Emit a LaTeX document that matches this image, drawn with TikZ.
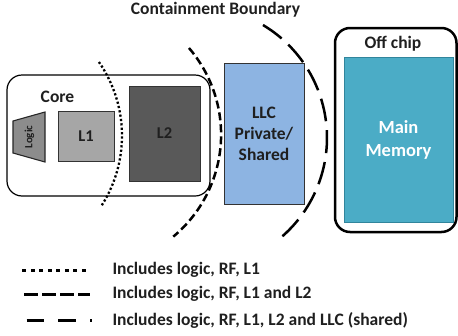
\documentclass[tikz,border=0pt]{standalone}
\usepackage{fontspec}
\setmainfont{Carlito}[BoldFont={Carlito Bold}]
\begin{document}
\begin{tikzpicture}[x=1pt,y=-1pt,
  every node/.style={font=\bfseries, text=black!88},
  block/.style={draw=black!80, line width=1pt, inner sep=0pt},
  lbl/.style={font=\fontsize{17.5}{21}\selectfont\bfseries, align=center},
  legtext/.style={font=\fontsize{17.5}{21}\selectfont\bfseries, anchor=west},
  bnddot/.style={line width=2.3pt, dash pattern=on 2.2pt off 2.2pt},
  bnddash/.style={line width=2.5pt, dash pattern=on 8pt off 4pt},
  bndlong/.style={line width=2.5pt, dash pattern=on 23pt off 9pt},
  legdot/.style={line width=3pt, dash pattern=on 4pt off 4.5pt},
  legdash/.style={line width=3pt, dash pattern=on 13.3pt off 4.7pt},
  leglong/.style={line width=3pt, dash pattern=on 17.7pt off 14pt}]
\useasboundingbox (0,0) rectangle (458,335);

% title
\node[lbl] (title) at (215.5,10) {Containment Boundary};

% core enclosure
\draw[line width=1.2pt, rounded corners=15pt] (7,75) rectangle (210,196);
\node[lbl] (core) at (57.5,97) {Core};

% logic (trapezoid)
\draw[fill=black!45, draw=black!85, line width=1.1pt]
  (13,121) -- (45,112) -- (45,162) -- (13,153) -- cycle;
\node[font=\fontsize{11}{12}\selectfont\bfseries, rotate=90] (logic) at (29.5,137) {Logic};

% caches
\node[block, fill=black!35, minimum width=56pt, minimum height=50pt, font=\fontsize{16.5}{19}\selectfont\bfseries] (l1) at (86,136) {L1};
\node[block, fill=black!65, minimum width=71pt, minimum height=95pt, font=\fontsize{16.5}{19}\selectfont\bfseries] (l2) at (164.5,133.5) {L2};
\node[block, fill={rgb,255:red,141;green,180;blue,226}, minimum width=80pt, minimum height=141pt, lbl] (llc) at (264,133.5) {LLC\\Private/\\Shared};

% off chip
\draw[line width=2.5pt, rounded corners=15pt] (335,28) rectangle (456.5,232);
\node[lbl] (offchip) at (393,44) {Off chip};
\node[draw={rgb,255:red,49;green,133;blue,156}, line width=1pt, fill={rgb,255:red,75;green,172;blue,198},
  minimum width=109pt, minimum height=165pt, inner sep=0pt,
  font=\fontsize{18.5}{23}\selectfont\bfseries, text=white, align=center] (mem) at (398.5,139.5) {Main\\Memory};

% containment boundaries
\coordinate (c1) at (-7.7,135.8);
\coordinate (c2) at (88.3,134.6);
\coordinate (c3) at (195.8,137.7);
\draw[bnddot] (c1) ++(-34.7:129.7) arc[start angle=-34.7, end angle=32.5, radius=129.7];
\draw[bnddash] (c2) ++(-40.7:132.8) arc[start angle=-40.7, end angle=50.2, radius=132.8];
\draw[bndlong] (c3) ++(-59.2:131.2) arc[start angle=-59.2, end angle=51.2, radius=131.2];

% legend
\coordinate (a1) at (22.3,270.3); \coordinate (b1) at (88,270.3);
\coordinate (a2) at (24.3,294.3); \coordinate (b2) at (89.7,294.3);
\coordinate (a3) at (26.7,320);   \coordinate (b3) at (92,320);
\draw[legdot] (a1) -- (b1);
\draw[legdash] (a2) -- (b2);
\draw[leglong] (a3) -- (b3);
\node[legtext] (t1) at (109,270.3) {Includes logic, RF, L1};
\node[legtext] (t2) at (109,294.3) {Includes logic, RF, L1 and L2};
\node[legtext] (t3) at (109,320) {Includes logic, RF, L1, L2 and LLC (shared)};
\end{tikzpicture}
\end{document}
